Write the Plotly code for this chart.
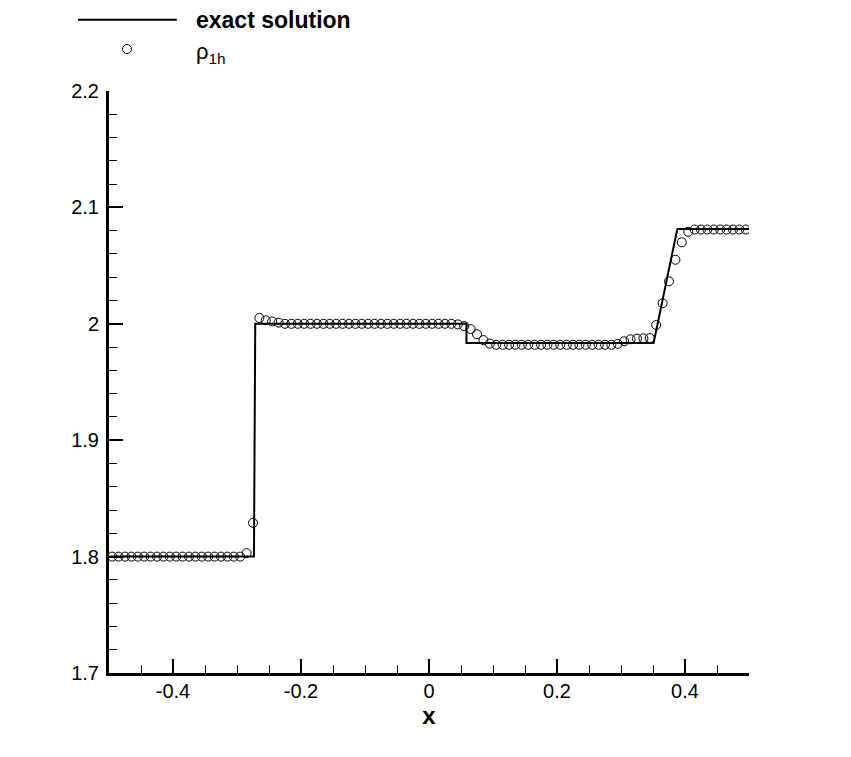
import plotly.graph_objects as go

# exact solution (piecewise)
exact_x = [-0.5, -0.2735, -0.2715, 0.0585, 0.0585, 0.3510, 0.3880, 0.5]
exact_y = [1.8, 1.8, 2.0, 2.0, 1.9835, 1.9835, 2.0815, 2.0815]

# numerical solution rho_1h at cell centres
cell_x = [-0.495, -0.485, -0.475, -0.465, -0.455, -0.445, -0.435, -0.425, -0.415, -0.405,
          -0.395, -0.385, -0.375, -0.365, -0.355, -0.345, -0.335, -0.325, -0.315, -0.305,
          -0.295, -0.285, -0.275, -0.265, -0.255, -0.245, -0.235, -0.225, -0.215, -0.205,
          -0.195, -0.185, -0.175, -0.165, -0.155, -0.145, -0.135, -0.125, -0.115, -0.105,
          -0.095, -0.085, -0.075, -0.065, -0.055, -0.045, -0.035, -0.025, -0.015, -0.005,
          0.005, 0.015, 0.025, 0.035, 0.045, 0.055, 0.065, 0.075, 0.085, 0.095,
          0.105, 0.115, 0.125, 0.135, 0.145, 0.155, 0.165, 0.175, 0.185, 0.195,
          0.205, 0.215, 0.225, 0.235, 0.245, 0.255, 0.265, 0.275, 0.285, 0.295,
          0.305, 0.315, 0.325, 0.335, 0.345, 0.355, 0.365, 0.375, 0.385, 0.395,
          0.405, 0.415, 0.425, 0.435, 0.445, 0.455, 0.465, 0.475, 0.485, 0.495]
rho_1h = [1.8, 1.8, 1.8, 1.8, 1.8, 1.8, 1.8, 1.8, 1.8, 1.8,
          1.8, 1.8, 1.8, 1.8, 1.8, 1.8, 1.8, 1.8, 1.8, 1.8,
          1.8, 1.803, 1.829, 2.005, 2.003, 2.002, 2.001, 2.0, 2.0, 2.0,
          2.0, 2.0, 2.0, 2.0, 2.0, 2.0, 2.0, 2.0, 2.0, 2.0,
          2.0, 2.0, 2.0, 2.0, 2.0, 2.0, 2.0, 2.0, 2.0, 2.0,
          2.0, 2.0, 2.0, 2.0, 1.9995, 1.998, 1.9955, 1.991, 1.986, 1.983,
          1.982, 1.982, 1.982, 1.982, 1.982, 1.982, 1.982, 1.982, 1.982, 1.982,
          1.982, 1.982, 1.982, 1.982, 1.982, 1.982, 1.982, 1.982, 1.982, 1.9828,
          1.985, 1.9867, 1.9873, 1.9875, 1.9877, 1.999, 2.0176, 2.0365, 2.055, 2.070,
          2.079, 2.081, 2.081, 2.081, 2.081, 2.081, 2.081, 2.081, 2.081, 2.081]

x_tickvals = [-0.4, -0.2, 0, 0.2, 0.4]
x_ticktext = ["-0.4", "-0.2", "0", "0.2", "0.4"]
y_tickvals = [1.7, 1.8, 1.9, 2.0, 2.1, 2.2]
y_ticktext = ["1.7", "1.8", "1.9", "2", "2.1", "2.2"]

FONT = "Liberation Sans, Arial, sans-serif"

fig = go.Figure()
fig.add_trace(go.Scatter(x=exact_x, y=exact_y, mode="lines",
                         line=dict(color="black", width=2), name="exact solution",
                         showlegend=False))
fig.add_trace(go.Scatter(x=cell_x, y=rho_1h, mode="markers",
                         marker=dict(symbol="circle-open", size=9, color="black",
                                     line=dict(width=1, color="black")),
                         name="ρ<sub>1h</sub>", showlegend=False))

# manual legend
fig.add_shape(type="line", xref="paper", yref="paper",
              x0=-0.0484, x1=0.106, y0=1.1225, y1=1.1225,
              line=dict(color="black", width=2))
fig.add_shape(type="circle", xref="paper", yref="paper",
              x0=0.0281 - 4.5 / 640, x1=0.0281 + 4.5 / 640,
              y0=1.072 - 4.5 / 582, y1=1.072 + 4.5 / 582,
              line=dict(color="black", width=1))
fig.add_annotation(xref="paper", yref="paper", x=0.133, y=1.1225,
                   text="<b>exact solution</b>", showarrow=False,
                   xanchor="left", yanchor="middle",
                   font=dict(family=FONT, size=23, color="black"))
fig.add_annotation(xref="paper", yref="paper", x=0.133, y=1.066,
                   text="ρ<sub>1h</sub>", showarrow=False,
                   xanchor="left", yanchor="middle",
                   font=dict(family=FONT, size=22, color="black"))

fig.update_layout(
    width=843, height=749,
    margin=dict(l=101, r=102, t=83, b=84),
    paper_bgcolor="white", plot_bgcolor="white",
    font=dict(family=FONT, size=20, color="black"),
    xaxis=dict(range=[-0.5, 0.5], tickvals=x_tickvals, ticktext=x_ticktext,
               ticks="inside", ticklen=14, tickwidth=2, tickcolor="black",
               showline=True, linewidth=3, linecolor="black", mirror=False,
               showgrid=False, zeroline=False, ticklabelstandoff=-2,
               minor=dict(dtick=0.05, tick0=0, ticks="inside", ticklen=8,
                          tickwidth=1, tickcolor="black", showgrid=False),
               title=dict(text="<b>x</b>", font=dict(size=24), standoff=4),
               tickfont=dict(size=20)),
    yaxis=dict(range=[1.7, 2.2], tickvals=y_tickvals, ticktext=y_ticktext,
               ticks="inside", ticklen=14, tickwidth=2, tickcolor="black",
               showline=True, linewidth=3, linecolor="black", mirror=False,
               showgrid=False, zeroline=False, ticklabelstandoff=3,
               minor=dict(dtick=0.02, tick0=1.7, ticks="inside", ticklen=8,
                          tickwidth=1, tickcolor="black", showgrid=False),
               tickfont=dict(size=20)),
)

fig.write_html("out.html")
